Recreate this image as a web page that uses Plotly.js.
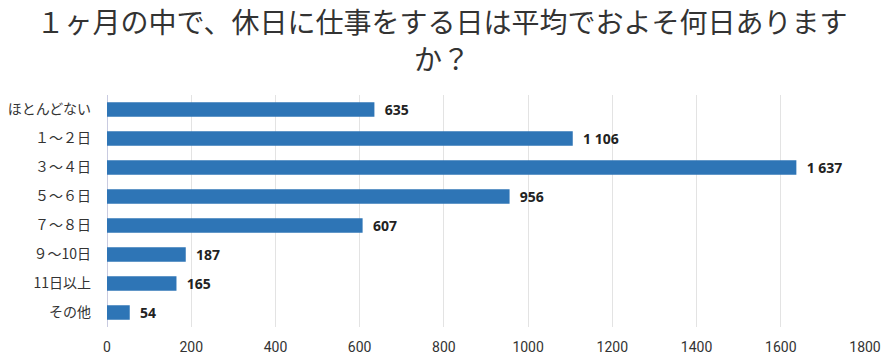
<!DOCTYPE html>
<html><head><meta charset="utf-8">
<script src="https://cdn.plot.ly/plotly-3.0.1.min.js"></script>
<style>html,body{margin:0;padding:0;background:#fff}</style>
</head><body>
<div id="chart" style="width:884px;height:363px"></div>
<script>
const categories = ["ほとんどない","１～２日","３～４日","５～６日","７～８日","９～10日","11日以上","その他"];
const values = [635, 1106, 1637, 956, 607, 187, 165, 54];
const xTicks = [0, 200, 400, 600, 800, 1000, 1200, 1400, 1600, 1800];
const titleText = "１ヶ月の中で、休日に仕事をする日は平均でおよそ何日ありますす<br>か？".replace("すす","す");

const trace = {
  type: "bar",
  orientation: "h",
  y: categories,
  x: values,
  marker: {color: "#2e75b6"},
  texttemplate: "  %{x:,}",
  textposition: "outside",
  constraintext: "none",
  cliponaxis: false,
  textfont: {family: "Open Sans, Noto Sans CJK JP, sans-serif", size: 14, color: "#222", weight: "bold"},
  hoverinfo: "none"
};

const layout = {
  width: 884, height: 363,
  margin: {l: 107, r: 19, t: 95, b: 36},
  separators: ". ",
  paper_bgcolor: "#fff", plot_bgcolor: "#fff",
  bargap: 0.5,
  showlegend: false,
  title: {
    text: titleText,
    font: {family: "Noto Sans CJK JP, sans-serif", size: 28, color: "#333"},
    x: 0.5, xanchor: "center", yref: "container", y: 0.908, yanchor: "top"
  },
  xaxis: {
    range: [0, 1800],
    tickvals: xTicks,
    ticktext: xTicks.map(String),
    showgrid: true, gridcolor: "#e3e3e3", gridwidth: 1,
    zeroline: true, zerolinecolor: "#c9cbe0", zerolinewidth: 1,
    showline: false,
    ticks: "", ticklabelstandoff: 10,
    tickfont: {family: "Liberation Sans Narrow, Roboto, sans-serif", size: 14, color: "#333"}
  },
  yaxis: {
    autorange: "reversed",
    categoryorder: "array", categoryarray: categories,
    showgrid: false, zeroline: false, showline: false,
    ticks: "", ticklabelstandoff: 15,
    tickfont: {family: "Noto Sans CJK JP, sans-serif", size: 14, color: "#333"}
  }
};

Plotly.newPlot("chart", [trace], layout, {displayModeBar: false, staticPlot: true});
</script>
</body></html>
